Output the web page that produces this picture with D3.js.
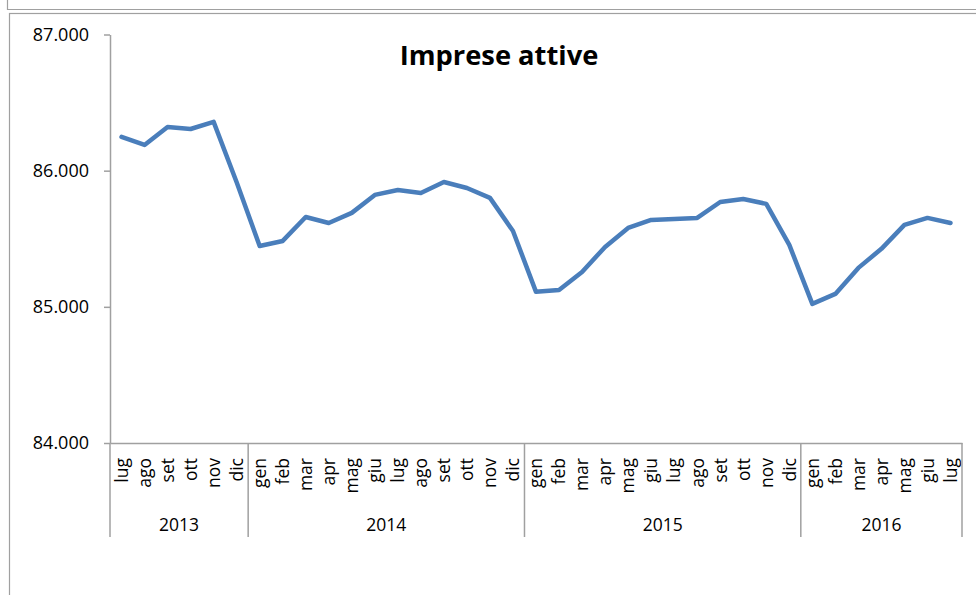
<!DOCTYPE html>
<html>
<head>
<meta charset="utf-8">
<script src="https://cdn.jsdelivr.net/npm/d3@7"></script>
<style>
  html, body { margin: 0; padding: 0; background: #fff; }
  svg { display: block; }
  text { font-family: "Open Sans", "Noto Sans", sans-serif; fill: #000; }
</style>
</head>
<body>
<svg id="chart" width="976" height="595"></svg>
<script>
// ---- data ----
const months = ["lug","ago","set","ott","nov","dic",
  "gen","feb","mar","apr","mag","giu","lug","ago","set","ott","nov","dic",
  "gen","feb","mar","apr","mag","giu","lug","ago","set","ott","nov","dic",
  "gen","feb","mar","apr","mag","giu","lug"];
const years = ["2013","2014","2015","2016"];
const yearCounts = [6, 12, 12, 7];
const values = [86248, 86189, 86321, 86306, 86358, 85915,
  85447, 85484, 85660, 85616, 85690, 85822, 85858, 85836, 85917, 85873, 85800, 85557,
  85110, 85124, 85256, 85440, 85579, 85638, 85645, 85653, 85770, 85792, 85756, 85455,
  85022, 85095, 85286, 85426, 85602, 85653, 85616];
const yTicks = [84000, 85000, 86000, 87000];
const title = "Imprese attive";

// ---- layout ----
const svg = d3.select("#chart");
const plotLeft = 110, plotRight = 962, plotTop = 34.5, plotBottom = 443, catBottom = 537;
const axisColor = "#a0a0a0";

// frames
svg.append("path").attr("d", "M7.5,0 V9.5 H976").attr("fill", "none").attr("stroke", axisColor).attr("stroke-width", 1.2);
svg.append("rect").attr("x", 9.5).attr("y", 13.5).attr("width", 1000).attr("height", 1000)
  .attr("fill", "none").attr("stroke", axisColor).attr("stroke-width", 1.2);

const idx = d3.range(values.length);
const x = d3.scaleBand().domain(idx).range([plotLeft, plotRight]).padding(0);
const y = d3.scaleLinear().domain([84000, 87000]).range([plotBottom, plotTop]);

const loc = d3.formatLocale({decimal: ",", thousands: ".", grouping: [3], currency: ["", ""]});
const fmt = loc.format(",");

// y axis
const yAxis = svg.append("g").attr("transform", `translate(${plotLeft},0)`)
  .call(d3.axisLeft(y).tickValues(yTicks).tickFormat(fmt).tickSize(6).tickSizeOuter(0));
yAxis.select(".domain").attr("stroke", axisColor).attr("stroke-width", 1.5);
yAxis.selectAll(".tick line").attr("stroke", axisColor).attr("stroke-width", 1.5);
yAxis.selectAll(".tick text").attr("x", -21).attr("font-size", "18px")
  .style("font-family", '"Open Sans", sans-serif').attr("fill", "#000");

// x axis (months)
const xAxis = svg.append("g").attr("transform", `translate(0,${plotBottom})`)
  .call(d3.axisBottom(x).tickFormat(i => months[i]).tickSize(0).tickSizeOuter(0));
xAxis.select(".domain").attr("stroke", axisColor).attr("stroke-width", 1.5);
xAxis.selectAll(".tick text")
  .attr("transform", "rotate(-90)")
  .attr("x", -15).attr("y", 0).attr("dy", "0.36em")
  .attr("text-anchor", "end")
  .attr("font-size", "17.5px")
  .style("font-family", '"Open Sans", sans-serif').attr("fill", "#000");

// year group separators and labels
let acc = 0;
const bounds = [0];
yearCounts.forEach(c => { acc += c; bounds.push(acc); });
const sepG = svg.append("g");
bounds.forEach(b => {
  const bx = b < values.length ? x(b) : x(values.length - 1) + x.bandwidth();
  sepG.append("line").attr("x1", bx).attr("x2", bx).attr("y1", plotBottom).attr("y2", catBottom)
    .attr("stroke", axisColor).attr("stroke-width", 1.5);
});
years.forEach((yr, k) => {
  const x0 = x(bounds[k]);
  const x1 = bounds[k + 1] < values.length ? x(bounds[k + 1]) : x(values.length - 1) + x.bandwidth();
  svg.append("text").attr("x", (x0 + x1) / 2).attr("y", 531)
    .attr("text-anchor", "middle").attr("font-size", "17.5px").text(yr);
});

// line
const line = d3.line().x((d, i) => x(i) + x.bandwidth() / 2).y(d => y(d));
svg.append("path").datum(values).attr("d", line)
  .attr("fill", "none").attr("stroke", "#4a7ebb").attr("stroke-width", 4.5)
  .attr("stroke-linejoin", "round").attr("stroke-linecap", "round");

// title
svg.append("text").attr("x", 499).attr("y", 65).attr("text-anchor", "middle")
  .attr("font-size", "27.3px").attr("font-weight", "bold").text(title);
</script>
</body>
</html>
